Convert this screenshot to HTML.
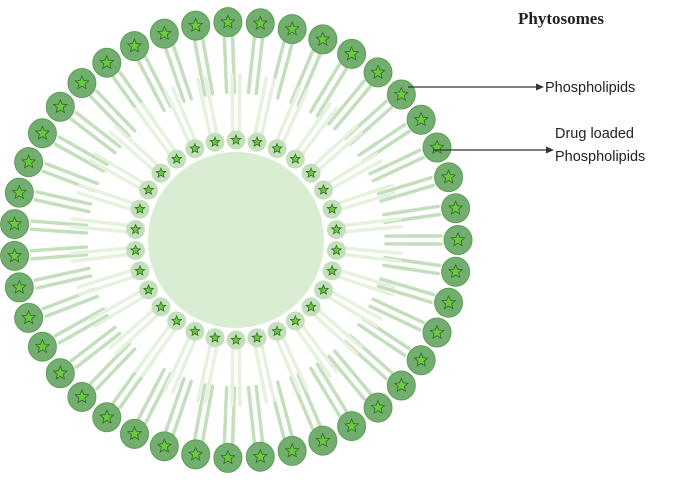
<!DOCTYPE html><html><head><style>body{margin:0;background:#fff}svg{display:block}</style></head><body>
<svg id="s" width="686" height="482" xmlns="http://www.w3.org/2000/svg">
<text x="518" y="24" font-family="Liberation Serif, serif" font-weight="bold" font-size="17" fill="#222">Phytosomes</text>
<g id="tails"></g>
<circle cx="236" cy="240" r="88" fill="#d8edd2"/>
<g id="heads"></g>
<line x1="408" y1="87" x2="538" y2="87" stroke="#333" stroke-width="1.3"/>
<polygon points="544,87 536,83.5 536,90.5" fill="#333"/>
<text x="545" y="92" font-family="Liberation Sans, sans-serif" font-size="14.5" fill="#222">Phospholipids</text>
<line x1="433" y1="150" x2="548" y2="150" stroke="#333" stroke-width="1.3"/>
<polygon points="554,150 546,146.5 546,153.5" fill="#333"/>
<text x="555" y="138" font-family="Liberation Sans, sans-serif" font-size="14.5" fill="#222">Drug loaded</text>
<text x="555" y="161" font-family="Liberation Sans, sans-serif" font-size="14.5" fill="#222">Phospholipids</text>
</svg>
<script>
var NS="http://www.w3.org/2000/svg",T=document.getElementById('tails'),H=document.getElementById('heads');
function el(p,n,a){var e=document.createElementNS(NS,n);for(var k in a)e.setAttribute(k,a[k]);p.appendChild(e);return e;}
function star(p,x,y,r){var pts=[];for(var i=0;i<10;i++){var a=-Math.PI/2+i*Math.PI/5,rr=i%2?r*0.45:r;pts.push((x+rr*Math.cos(a)).toFixed(1)+","+(y+rr*Math.sin(a)).toFixed(1));}el(p,'polygon',{points:pts.join(' '),fill:'#6cc83c',stroke:'#2f6b2a','stroke-width':0.8});}
var cx=236,cy=240,N=43;
for(var i=0;i<N;i++){var a=i/N*2*Math.PI;
 for(var s=-1;s<=1;s+=2){var da=s*0.02;
  el(T,'line',{x1:cx+205*Math.cos(a+da),y1:cy+203*Math.sin(a+da),x2:cx+150*Math.cos(a+da*1.3),y2:cy+148*Math.sin(a+da*1.3),stroke:'#c3dfbd','stroke-width':3.5,'stroke-linecap':'round'});}
}
var M=30;
for(var i=0;i<M;i++){var a=(i+0.5)/M*2*Math.PI;
 for(var s=-1;s<=1;s+=2){var da=s*0.03;
  el(T,'line',{x1:cx+110*Math.cos(a+da),y1:cy+110*Math.sin(a+da),x2:cx+165*Math.cos(a+da*0.8),y2:cy+165*Math.sin(a+da*0.8),stroke:'#e6f1de','stroke-width':3.5,'stroke-linecap':'round'});}
}
for(var i=0;i<N;i++){var a=i/N*2*Math.PI,x=cx+222*Math.cos(a),y=cy+218*Math.sin(a);
 el(H,'ellipse',{cx:x,cy:y,rx:14,ry:14.5,fill:'#72ae6e',stroke:'#5f9c5c','stroke-width':1});star(H,x,y,7);}
for(var i=0;i<M;i++){var a=(i+0.5)/M*2*Math.PI,x=cx+101*Math.cos(a),y=cy+100*Math.sin(a);
 el(H,'circle',{cx:x,cy:y,r:9.5,fill:'#c4dfbb'});star(H,x,y,5);}
</script>
</body></html>
